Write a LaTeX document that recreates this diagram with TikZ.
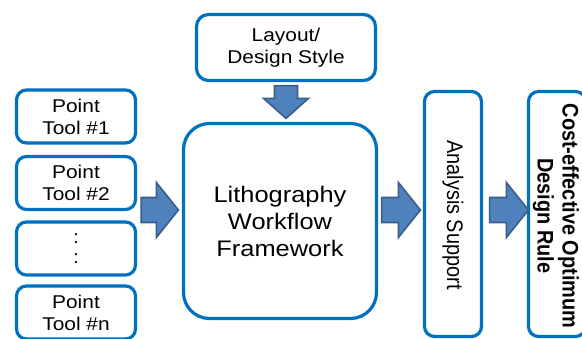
\documentclass[tikz,border=0pt]{standalone}
\usepackage{fontspec}
\setmainfont{Liberation Sans}[FakeStretch=1.13]
\newfontfamily\rotfont{Liberation Sans}[FakeStretch=0.885]
\usetikzlibrary{calc}
\definecolor{boxblue}{RGB}{0,112,192}
\definecolor{arrowfill}{RGB}{79,129,189}
\definecolor{arrowedge}{RGB}{56,93,138}
\tikzset{
  box/.style={draw=boxblue, line width=3.2pt, fill=white, rectangle, rounded corners=10pt, inner sep=0pt, align=center},
  pointbox/.style={box, minimum width=119pt, minimum height=53pt, font=\fontsize{18.5}{22}\selectfont},
  tallbox/.style={box, minimum width=57pt, minimum height=245pt},
  rottext/.style={rotate=-90, align=center, inner sep=0pt},
  blockarrow/.style n args={3}{draw=arrowedge, fill=arrowfill, line width=1.6pt, line join=miter,
    to path={($(\tikztostart)!#1!90:(\tikztotarget)$)
      -- ($($(\tikztotarget)!#3!(\tikztostart)$)!#1!90:(\tikztotarget)$)
      -- ($($(\tikztotarget)!#3!(\tikztostart)$)!#2!90:(\tikztotarget)$)
      -- (\tikztotarget)
      -- ($($(\tikztotarget)!#3!(\tikztostart)$)!#2!-90:(\tikztotarget)$)
      -- ($($(\tikztotarget)!#3!(\tikztostart)$)!#1!-90:(\tikztotarget)$)
      -- ($(\tikztostart)!#1!-90:(\tikztotarget)$) -- cycle}}
}
\begin{document}
\begin{tikzpicture}[x=1pt, y=-1pt]
\useasboundingbox (0,0) rectangle (582,339);

% point tools
\node[pointbox] (p1) at (76,116.5) {Point\\Tool \#1};
\node[pointbox] (p2) at (76,183) {Point\\Tool \#2};
\node[pointbox, font=\fontsize{18.5}{20}\selectfont] (p3) at (76,248.5) {:\\:};
\node[pointbox] (p4) at (76,312.5) {Point\\Tool \#n};

% layout / design style
\node[box, rounded corners=12pt, minimum width=179pt, minimum height=66pt,
      font=\fontsize{18.5}{21.5}\selectfont] (layout) at (286,47.5) {Layout/\\Design Style};

% central framework
\node[box, rounded corners=26pt, minimum width=193pt, minimum height=195pt,
      font=\fontsize{22.5}{27}\selectfont] (lith) at (280,221) {Lithography\\Workflow\\Framework};

% analysis support
\node[tallbox] (ana) at (453,214) {};
\node[rottext, font=\rotfont\fontsize{22.5}{25}\selectfont] (anatext) at (453,215) {Analysis Support};

% design rule
\node[tallbox] (rule) at (557,214) {};
\node[rottext, font=\rotfont\bfseries\fontsize{22.5}{25}\selectfont] (ruletext) at (556,216) {Cost-effective Optimum\\Design Rule};

% block arrows
\coordinate (a1s) at ($(p2.east)+(4,27)$);
\coordinate (a1t) at ($(lith.west)+(-3.5,-11)$);
\coordinate (a2s) at ($(lith.east)+(3.5,-11)$);
\coordinate (a2t) at ($(ana.west)+(-2.5,-4)$);
\coordinate (a3s) at ($(ana.east)+(6.5,-4)$);
\coordinate (a3t) at ($(rule.west)+(1.5,-4)$);
\coordinate (a4s) at ($(layout.south)+(0,3.5)$);
\coordinate (a4t) at ($(lith.north)+(6,-3.5)$);

\draw[blockarrow={12.5pt}{27.5pt}{22pt}] (a1s) to (a1t);
\draw[blockarrow={12.5pt}{27.5pt}{22pt}] (a2s) to (a2t);
\draw[blockarrow={12.5pt}{27.5pt}{22pt}] (a3s) to (a3t);
\draw[blockarrow={11.5pt}{22.5pt}{20pt}] (a4s) to (a4t);
\end{tikzpicture}
\end{document}
